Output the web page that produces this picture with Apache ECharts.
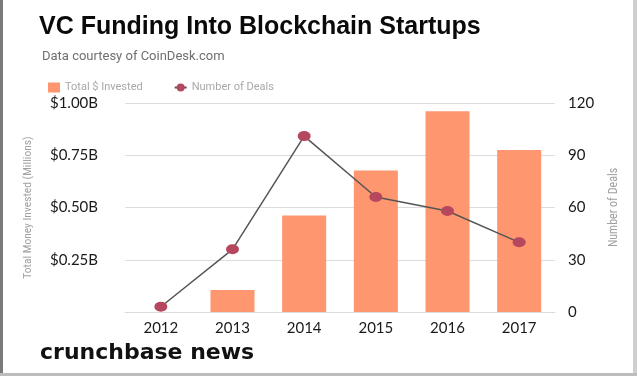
<!DOCTYPE html>
<html>
<head>
<meta charset="utf-8">
<script src="https://cdn.jsdelivr.net/npm/echarts@6/dist/echarts.min.js"></script>
<style>
  html, body { margin: 0; padding: 0; background: #fff; }
  #chart { width: 637px; height: 376px; }
</style>
</head>
<body>
<div id="chart"></div>
<script>
var years = ['2012', '2013', '2014', '2015', '2016', '2017'];
// total invested, millions of dollars
var invested = [0, 105, 462, 677, 960, 775];
var deals = [3, 36, 101, 66, 58, 40];
var leftTicks = [0, 250, 500, 750, 1000];
var rightTicks = [0, 30, 60, 90, 120];

var myChart = echarts.init(document.getElementById('chart'));

var labelFont = "Lato, 'Open Sans', sans-serif";
var nameFont = "'Liberation Sans Narrow', 'Roboto Condensed', Roboto";

var option = {
    backgroundColor: '#fff',
    animation: false,
    title: [
        {
            text: 'VC Funding Into Blockchain Startups',
            left: 34,
            top: 10,
            textStyle: { fontFamily: "'Liberation Sans', Arial", fontWeight: 'bold', fontSize: 25, color: '#0a0a0a' }
        },
        {
            text: 'Data courtesy of CoinDesk.com',
            left: 37,
            top: 45,
            textStyle: { fontFamily: 'Roboto', fontWeight: 'normal', fontSize: 13, color: '#6f6f6f' }
        }
    ],
    legend: {
        left: 43,
        top: 77,
        itemGap: 31,
        itemWidth: 12,
        itemHeight: 10,
        textStyle: { fontFamily: 'Roboto', fontSize: 11, color: '#a8a8a8' },
        data: [
            { name: 'Total $ Invested', icon: 'rect' },
            { name: 'Number of Deals' }
        ]
    },
    grid: { left: 125, right: 82, top: 103, bottom: 64 },
    xAxis: {
        type: 'category',
        data: years,
        axisLine: { lineStyle: { color: '#dcdcdc' } },
        axisTick: { show: false },
        axisLabel: { color: '#1a1a1a', fontFamily: labelFont, fontSize: 15, margin: 9 }
    },
    yAxis: [
        {
            type: 'value',
            min: leftTicks[0],
            max: leftTicks[leftTicks.length - 1],
            interval: 250,
            name: 'Total Money Invested (Millions)',
            nameLocation: 'middle',
            nameRotate: 90,
            nameGap: 91,
            nameTextStyle: { fontFamily: nameFont, fontSize: 11.5, color: '#a0a0a0' },
            axisLine: { show: false },
            axisTick: { show: false },
            axisLabel: {
                margin: 27,
                color: '#1a1a1a',
                fontFamily: labelFont,
                fontSize: 15,
                formatter: function (v) {
                    return v === 0 ? '' : '$' + (v / 1000).toFixed(2) + 'B';
                }
            },
            splitLine: { lineStyle: { color: '#dcdcdc' } }
        },
        {
            type: 'value',
            min: rightTicks[0],
            max: rightTicks[rightTicks.length - 1],
            interval: 30,
            name: 'Number of Deals',
            nameLocation: 'middle',
            nameRotate: 90,
            nameGap: 53,
            nameTextStyle: { fontFamily: nameFont, fontSize: 12, color: '#a0a0a0' },
            axisLine: { show: false },
            axisTick: { show: false },
            axisLabel: { margin: 13, color: '#1a1a1a', fontFamily: labelFont, fontSize: 15 },
            splitLine: { show: false }
        }
    ],
    series: [
        {
            name: 'Total $ Invested',
            type: 'bar',
            data: invested,
            barWidth: 44,
            itemStyle: { color: '#fe966f' }
        },
        {
            name: 'Number of Deals',
            type: 'line',
            yAxisIndex: 1,
            data: deals,
            symbol: 'circle',
            symbolSize: [13, 10],
            lineStyle: { color: '#555', width: 1.5 },
            itemStyle: { color: '#b5475f' }
        }
    ],
    graphic: [
        {
            type: 'text',
            left: 40,
            top: 342,
            style: { text: 'crunchbase news', font: "bold 22px 'DejaVu Sans'", fill: '#111' }
        },
        { type: 'rect', shape: { x: 0, y: 0, width: 3, height: 376 }, style: { fill: '#7a7a7a' } },
        { type: 'rect', shape: { x: 633, y: 0, width: 4, height: 376 }, style: { fill: '#cfcfcf' } },
        { type: 'rect', shape: { x: 0, y: 373, width: 637, height: 3 }, style: { fill: '#bdbdbd' } }
    ]
};

myChart.setOption(option);
</script>
</body>
</html>
